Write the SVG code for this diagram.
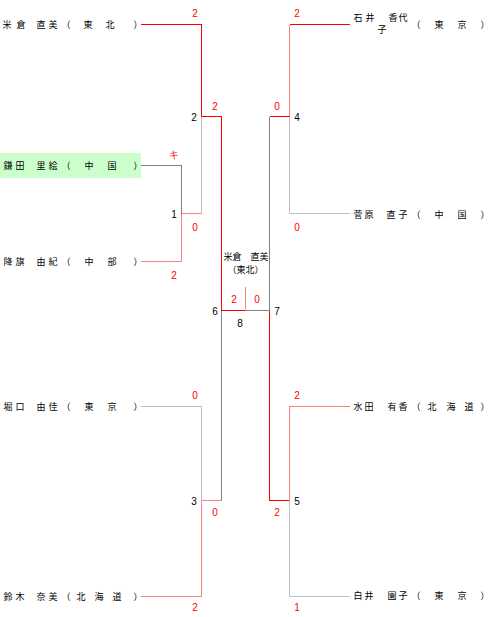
<svg xmlns="http://www.w3.org/2000/svg" width="490" height="617" viewBox="0 0 490 617">
<style>
.nm{font-family:"Noto Sans CJK JP","Noto Sans CJK SC",sans-serif;font-size:9px;fill:#000;text-anchor:middle}
.sc{font-family:"Liberation Sans",Arial,sans-serif;font-size:10px;fill:#ff0000;text-anchor:middle}
.mn{font-family:"Liberation Sans",Arial,sans-serif;font-size:10px;fill:#000;text-anchor:middle}
.r{stroke:#ff0000;stroke-width:1;fill:none}
.lr{stroke:#ff8080;stroke-width:1;fill:none}
.g{stroke:#808080;stroke-width:1;fill:none}
.lg{stroke:#c0c0c0;stroke-width:1;fill:none}
</style>
<rect width="490" height="617" fill="#fff"/>
<g id="connectors" shape-rendering="crispEdges">
<path class="r" d="M141 24.5H201.5V116.5H221.5V310.5H245.5"/>
<path class="lg" d="M201.5 116.5V213.5"/>
<path class="lr" d="M181.5 213.5H201.5"/>
<path class="g" d="M141 165.5H181.5V213.5"/>
<path class="lr" d="M141 261.5H181.5V213.5"/>
<path class="r" d="M350 24.5H289.5"/>
<path class="lr" d="M289.5 24.5V116.5"/>
<path class="r" d="M289.5 116.5H269.5"/>
<path class="g" d="M269.5 116.5V310.5H245.5"/>
<path class="lg" d="M289.5 116.5V213.5H350"/>
<path class="lr" d="M245.5 287V310.5"/>
<path class="g" d="M221.5 310.5V500.5"/>
<path class="r" d="M269.5 310.5V500.5H289.5"/>
<path class="lg" d="M141 406.5H201.5V500.5"/>
<path class="lr" d="M201.5 500.5H221.5"/>
<path class="lr" d="M201.5 500.5V596.5H141"/>
<path class="lr" d="M350 406.5H289.5V500.5"/>
<path class="lg" d="M289.5 500.5V596.5H350"/>
</g>
<g id="p1"><text class="nm" x="7 21 41 53 66 88 110 138" y="27.5">米倉直美（東北）</text></g>
<g id="p2"><rect x="0" y="153" width="141" height="25" fill="#ccffcc"/><text class="nm" x="8 20 41 53 66 89 112 138" y="168.5">鎌田里絵（中国）</text></g>
<g id="p3"><text class="nm" x="8 20 41 53 66 89 112 138" y="265">降旗由紀（中部）</text></g>
<g id="p4"><text class="nm" x="8 20 41 53 66 89 112 138" y="410">堀口由佳（東京）</text></g>
<g id="p5"><text class="nm" x="8 20 41 53 66 81 99 117 138" y="599.5">鈴木奈美（北海道）</text></g>
<g id="p6"><text class="nm" x="358 370 393 403" y="20.5">石井香代</text><text class="nm" x="382" y="32.5">子</text><text class="nm" x="416 439 462 485" y="27.5">（東京）</text></g>
<g id="p7"><text class="nm" x="358 369 391 403 416 439 462 485" y="217.5">菅原直子（中国）</text></g>
<g id="p8"><text class="nm" x="358 369 392 403 416 432 451 469 485" y="410">水田有香（北海道）</text></g>
<g id="p9"><text class="nm" x="358 369 392 403 416 439 462 485" y="598.5">白井園子（東京）</text></g>
<g id="winner"><text class="nm" x="246" y="259.5">米倉　直美</text><text class="nm" x="245.5" y="272.5">（東北）</text></g>
<g id="m1"><text class="mn" x="174" y="218">1</text></g>
<g id="m2"><text class="mn" x="194" y="121">2</text></g>
<g id="m3"><text class="mn" x="194" y="504.5">3</text></g>
<g id="m4"><text class="mn" x="297" y="121">4</text></g>
<g id="m5"><text class="mn" x="297" y="504.5">5</text></g>
<g id="m6"><text class="mn" x="215" y="314.5">6</text></g>
<g id="m7"><text class="mn" x="277" y="314.5">7</text></g>
<g id="m8"><text class="mn" x="240" y="326.5">8</text></g>
<g id="scores">
<text class="sc" x="195" y="16.5">2</text>
<text class="sc" x="215" y="109.5">2</text>
<text class="sc" x="174" y="157.5">キ</text>
<text class="sc" x="195" y="230.5">0</text>
<text class="sc" x="174" y="278.5">2</text>
<text class="sc" x="297" y="16.5">2</text>
<text class="sc" x="277" y="109.5">0</text>
<text class="sc" x="297" y="230.5">0</text>
<text class="sc" x="234" y="302.5">2</text>
<text class="sc" x="257" y="302.5">0</text>
<text class="sc" x="195" y="398.5">0</text>
<text class="sc" x="215" y="516">0</text>
<text class="sc" x="297" y="398.5">2</text>
<text class="sc" x="277" y="516">2</text>
<text class="sc" x="195" y="611">2</text>
<text class="sc" x="297" y="611">1</text>
</g>
</svg>
